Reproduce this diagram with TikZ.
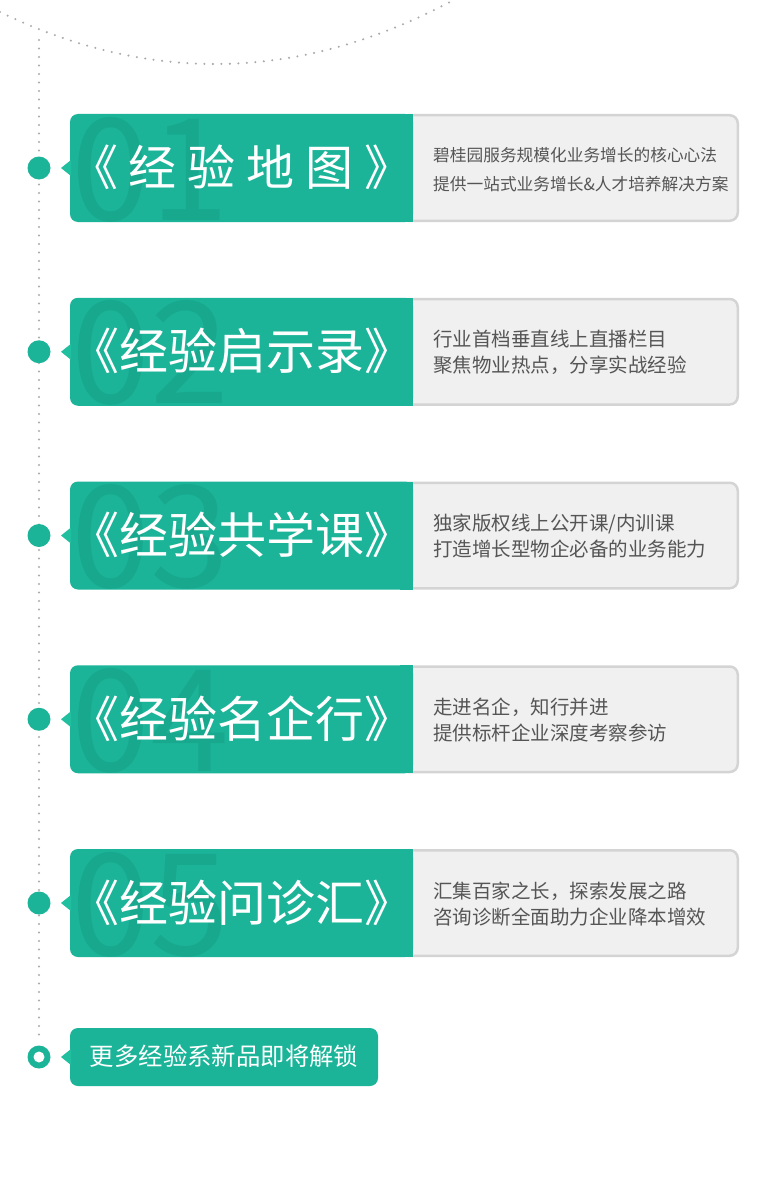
\documentclass[tikz,border=0pt]{standalone}
\usepackage{fontspec}
\setmainfont{Noto Sans CJK SC}
\definecolor{teal1}{HTML}{1BB499}
\definecolor{tealdk}{HTML}{18A88E}
\definecolor{tealtri}{HTML}{20BFA0}
\definecolor{dotgray}{HTML}{ABABAB}
\definecolor{cardgray}{HTML}{F0F0F0}
\definecolor{cardline}{HTML}{D4D4D4}
\definecolor{txtgray}{HTML}{555555}
\begin{document}
\begin{tikzpicture}[x=1pt,y=-1pt,
  dotline/.style={draw=dotgray,line width=2.3pt,line cap=round,dash pattern=on 0pt off 8.5pt},
  cardbox/.style={fill=cardgray,draw=cardline,line width=2.5pt,rounded corners=8pt},
  greenbox/.style={fill=teal1,rounded corners=8pt},
  pointer/.style={fill=tealtri},
  bullet/.style={fill=teal1},
  digit/.style={font=\fontsize{142}{142}\selectfont,text=tealdk,inner sep=0pt,anchor=base west},
  titleA/.style={font=\fontsize{48}{48}\selectfont,text=white,inner sep=0pt,anchor=base},
  titleB/.style={font=\fontsize{49}{49}\selectfont,text=white,inner sep=0pt,anchor=base},
  descA/.style={font=\fontsize{16.7}{16.7}\selectfont,text=txtgray,inner sep=0pt,anchor=base west},
  descB/.style={font=\fontsize{19.5}{19.5}\selectfont,text=txtgray,inner sep=0pt,anchor=base west},
  pilltext/.style={font=\fontsize{24.4}{24.4}\selectfont,text=white,inner sep=0pt,anchor=base}]
\fill[white] (0,0) rectangle (768,1204);
\useasboundingbox (0,0) rectangle (768,1204);
% top dotted wave
\draw[dotline] plot[domain=0:462,samples=80,smooth] (\x,{64-52*((\x-215)/215)^2});
% vertical dotted timeline
\coordinate (vtop) at (39,40);
\coordinate (vbot) at (39,1040);
\draw[dotline] (vtop) -- (vbot);
% cards
\foreach \i/\t/\n in {1/114/01,2/297.75/02,3/481.5/03,4/665.25/04,5/849/05}{
  \pgfmathsetmacro\c{\t+54}
  \pgfmathsetmacro\b{\t+108}
  \draw[cardbox] (400,\t+1.25) rectangle (737.75,\b-1.25);
  \fill[greenbox] (70,\t) rectangle (413,\b);
  \fill[teal1] (400,\t) rectangle (413,\b);
  \begin{scope}
    \clip[rounded corners=8pt] (70,\t) rectangle (413,\b);
    \node[digit] (num\i) at (71,\b-2) {\n};
  \end{scope}
  \fill[pointer] (61,\c) -- (71,\c-8) -- (71,\c+8) -- cycle;
  \fill[bullet] (39,\c) circle [radius=11.5];
}
% titles
\node[titleA] (title1) at (241.5,185.5) {《\kern11pt 经\kern11pt 验\kern11pt 地\kern11pt 图\kern11pt 》};
\node[titleB] (title2) at (241.5,369.75) {《经验启示录》};
\node[titleB] (title3) at (241.5,553.5) {《经验共学课》};
\node[titleB] (title4) at (241.5,737.25) {《经验名企行》};
\node[titleB] (title5) at (241.5,921) {《经验问诊汇》};
% descriptions
\node[descA] (d1a) at (433,161.1) {碧桂园服务规模化业务增长的核心心法};
\node[descA] (d1b) at (433,190.1) {提供一站式业务增长\&人才培养解决方案};
\node[descB] (d2a) at (433,346.85) {行业首档垂直线上直播栏目};
\node[descB] (d2b) at (433,372.85) {聚焦物业热点，分享实战经验};
\node[descB] (d3a) at (433,530.6) {独家版权线上公开课/内训课};
\node[descB] (d3b) at (433,556.6) {打造增长型物企必备的业务能力};
\node[descB] (d4a) at (433,714.35) {走进名企，知行并进};
\node[descB] (d4b) at (433,740.35) {提供标杆企业深度考察参访};
\node[descB] (d5a) at (433,898.1) {汇集百家之长，探索发展之路};
\node[descB] (d5b) at (433,924.1) {咨询诊断全面助力企业降本增效};
% final pill
\fill[greenbox] (70,1028) rectangle (378,1086);
\fill[pointer] (61,1057) -- (71,1049) -- (71,1065) -- cycle;
\fill[bullet] (39,1057) circle [radius=11.5];
\fill[white] (39,1057) circle [radius=5.5];
\node[pilltext] (pill) at (224,1065.9) {更多经验系新品即将解锁};
\end{tikzpicture}
\end{document}
